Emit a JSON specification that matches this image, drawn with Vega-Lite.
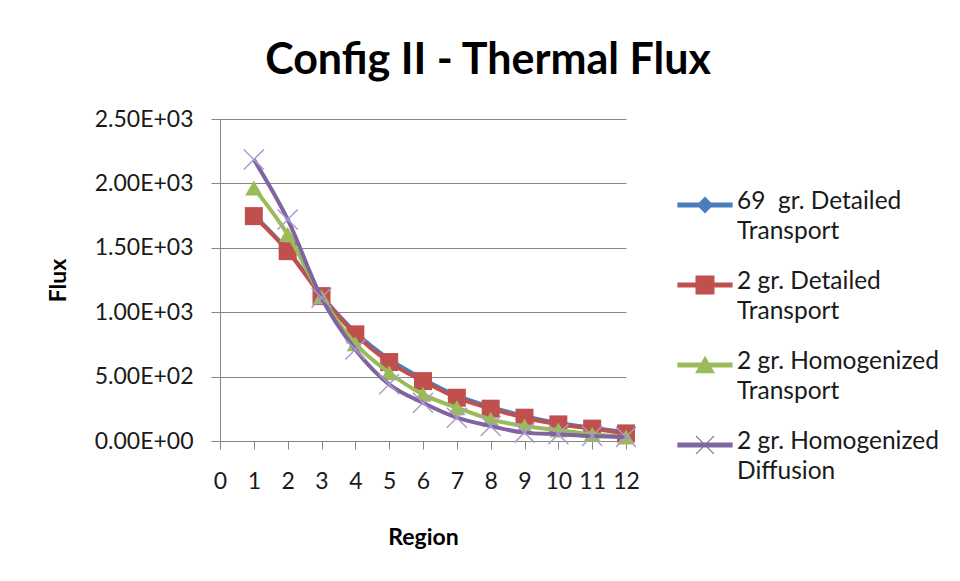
{
  "$schema": "https://vega.github.io/schema/vega-lite/v6.json",
  "autosize": "none",
  "width": 406,
  "height": 322,
  "padding": {"left": 220, "top": 119, "right": 334, "bottom": 140},
  "background": "white",
  "title": {
    "text": "Config II - Thermal Flux",
    "font": "Lato",
    "fontSize": 43,
    "fontWeight": "bold",
    "color": "#000000",
    "anchor": "middle",
    "dx": 65,
    "baseline": "alphabetic",
    "offset": -9
  },
  "config": {
    "view": {"stroke": null},
    "font": "Lato"
  },
  "data": {
    "values": [
      {"region": 1, "flux": 1755, "series": "69\u00a0 gr. Detailed Transport"},
      {"region": 2, "flux": 1480, "series": "69\u00a0 gr. Detailed Transport"},
      {"region": 3, "flux": 1130, "series": "69\u00a0 gr. Detailed Transport"},
      {"region": 4, "flux": 845, "series": "69\u00a0 gr. Detailed Transport"},
      {"region": 5, "flux": 635, "series": "69\u00a0 gr. Detailed Transport"},
      {"region": 6, "flux": 482, "series": "69\u00a0 gr. Detailed Transport"},
      {"region": 7, "flux": 352, "series": "69\u00a0 gr. Detailed Transport"},
      {"region": 8, "flux": 265, "series": "69\u00a0 gr. Detailed Transport"},
      {"region": 9, "flux": 193, "series": "69\u00a0 gr. Detailed Transport"},
      {"region": 10, "flux": 140, "series": "69\u00a0 gr. Detailed Transport"},
      {"region": 11, "flux": 103, "series": "69\u00a0 gr. Detailed Transport"},
      {"region": 12, "flux": 68, "series": "69\u00a0 gr. Detailed Transport"},
      {"region": 1, "flux": 1746, "series": "2 gr. Detailed Transport"},
      {"region": 2, "flux": 1474, "series": "2 gr. Detailed Transport"},
      {"region": 3, "flux": 1125, "series": "2 gr. Detailed Transport"},
      {"region": 4, "flux": 828, "series": "2 gr. Detailed Transport"},
      {"region": 5, "flux": 613, "series": "2 gr. Detailed Transport"},
      {"region": 6, "flux": 465, "series": "2 gr. Detailed Transport"},
      {"region": 7, "flux": 336, "series": "2 gr. Detailed Transport"},
      {"region": 8, "flux": 251, "series": "2 gr. Detailed Transport"},
      {"region": 9, "flux": 181, "series": "2 gr. Detailed Transport"},
      {"region": 10, "flux": 129, "series": "2 gr. Detailed Transport"},
      {"region": 11, "flux": 96, "series": "2 gr. Detailed Transport"},
      {"region": 12, "flux": 59, "series": "2 gr. Detailed Transport"},
      {"region": 1, "flux": 1965, "series": "2 gr. Homogenized Transport"},
      {"region": 2, "flux": 1603, "series": "2 gr. Homogenized Transport"},
      {"region": 3, "flux": 1120, "series": "2 gr. Homogenized Transport"},
      {"region": 4, "flux": 756, "series": "2 gr. Homogenized Transport"},
      {"region": 5, "flux": 530, "series": "2 gr. Homogenized Transport"},
      {"region": 6, "flux": 362, "series": "2 gr. Homogenized Transport"},
      {"region": 7, "flux": 259, "series": "2 gr. Homogenized Transport"},
      {"region": 8, "flux": 168, "series": "2 gr. Homogenized Transport"},
      {"region": 9, "flux": 116, "series": "2 gr. Homogenized Transport"},
      {"region": 10, "flux": 85, "series": "2 gr. Homogenized Transport"},
      {"region": 11, "flux": 52, "series": "2 gr. Homogenized Transport"},
      {"region": 12, "flux": 31, "series": "2 gr. Homogenized Transport"},
      {"region": 1, "flux": 2185, "series": "2 gr. Homogenized Diffusion"},
      {"region": 2, "flux": 1720, "series": "2 gr. Homogenized Diffusion"},
      {"region": 3, "flux": 1112, "series": "2 gr. Homogenized Diffusion"},
      {"region": 4, "flux": 711, "series": "2 gr. Homogenized Diffusion"},
      {"region": 5, "flux": 440, "series": "2 gr. Homogenized Diffusion"},
      {"region": 6, "flux": 297, "series": "2 gr. Homogenized Diffusion"},
      {"region": 7, "flux": 181, "series": "2 gr. Homogenized Diffusion"},
      {"region": 8, "flux": 116, "series": "2 gr. Homogenized Diffusion"},
      {"region": 9, "flux": 65, "series": "2 gr. Homogenized Diffusion"},
      {"region": 10, "flux": 52, "series": "2 gr. Homogenized Diffusion"},
      {"region": 11, "flux": 39, "series": "2 gr. Homogenized Diffusion"},
      {"region": 12, "flux": 31, "series": "2 gr. Homogenized Diffusion"}
    ]
  },
  "encoding": {
    "x": {
      "field": "region",
      "type": "quantitative",
      "title": "Region",
      "scale": {"domain": [0, 12], "nice": false, "zero": false},
      "axis": {
        "values": [0, 1, 2, 3, 4, 5, 6, 7, 8, 9, 10, 11, 12],
        "format": "d",
        "grid": false,
        "domainColor": "#868686",
        "tickColor": "#868686",
        "tickSize": 8,
        "labelFont": "Lato",
        "labelFontSize": 23,
        "labelColor": "#1a1a1a",
        "labelPadding": 21,
        "labelFlush": false,
        "titleFont": "Lato",
        "titleFontSize": 23,
        "titleFontWeight": "bold",
        "titleColor": "#000000",
        "titlePadding": 33
      }
    },
    "y": {
      "field": "flux",
      "type": "quantitative",
      "title": "Flux",
      "scale": {"domain": [0, 2500], "nice": false},
      "axis": {
        "values": [0, 500, 1000, 1500, 2000, 2500],
        "labelExpr": "datum.value == 0 ? '0.00E+00' : format(datum.value / pow(10, floor(log(datum.value) / LN10 + 1e-9)), '.2f') + 'E+' + format(floor(log(datum.value) / LN10 + 1e-9), '02d')",
        "grid": true,
        "gridColor": "#868686",
        "domainColor": "#868686",
        "tickColor": "#868686",
        "tickSize": 9,
        "labelFont": "Lato",
        "labelFontSize": 23,
        "labelColor": "#1a1a1a",
        "labelPadding": 18,
        "titleFont": "Lato",
        "titleFontSize": 23,
        "titleFontWeight": "bold",
        "titleColor": "#000000",
        "titlePadding": 24
      }
    },
    "color": {
      "field": "series",
      "type": "nominal",
      "scale": {
        "domain": ["69\u00a0 gr. Detailed Transport", "2 gr. Detailed Transport", "2 gr. Homogenized Transport", "2 gr. Homogenized Diffusion"],
        "range": ["#4A7EBB", "#C0504D", "#9BBB59", "#8064A2"]
      },
      "legend": {
        "title": null,
        "orient": "none",
        "legendX": 457,
        "legendY": 58,
        "labelFont": "Lato",
        "labelFontSize": 24.5,
        "labelColor": "#1a1a1a",
        "labelLimit": 400,
        "labelOffset": 4,
        "labelExpr": "[slice(datum.label, 0, lastindexof(datum.label, ' ')), slice(datum.label, lastindexof(datum.label, ' ') + 1)]",
        "symbolSize": 2916,
        "rowPadding": 13,
        "encode": {
          "labels": {"update": {"lineHeight": {"value": 30}, "baseline": {"value": "top"}, "dy": {"value": -15}}},
          "symbols": {
            "update": {
              "shape": {"signal": "datum.value === '2 gr. Detailed Transport' ? 'M-1,-0.074H1V0.074H-1Z M-0.33,-0.33H0.33V0.33H-0.33Z' : datum.value === '2 gr. Homogenized Transport' ? 'M-1,-0.074H1V0.074H-1Z M0,-0.3L0.33,0.28L-0.33,0.28Z' : datum.value === '2 gr. Homogenized Diffusion' ? 'M-1,-0.074H1V0.074H-1Z M-0.33,-0.33L0.33,0.33M-0.33,0.33L0.33,-0.33' : 'M-1,-0.074H1V0.074H-1Z M0,-0.28L0.28,0L0,0.28L-0.28,0Z'"},
              "fill": {"signal": "scale('color', datum.value)"},
              "fillOpacity": {"value": 1},
              "stroke": {"signal": "datum.value === '2 gr. Homogenized Diffusion' ? '#a99bd0' : 'transparent'"},
              "strokeWidth": {"value": 1.2},
              "size": {"value": 2916}
            }
          }
        }
      }
    }
  },
  "layer": [
    {
      "transform": [{"filter": "indexof(datum.series, '69') === 0"}],
      "layer": [
        {"mark": {"type": "line", "interpolate": "monotone", "strokeWidth": 4}},
        {"mark": {"type": "point", "shape": "diamond", "filled": true, "size": 144, "opacity": 1}}
      ]
    },
    {
      "transform": [{"filter": "datum.series === '2 gr. Detailed Transport'"}],
      "layer": [
        {"mark": {"type": "line", "interpolate": "monotone", "strokeWidth": 4}},
        {"mark": {"type": "point", "shape": "square", "filled": true, "size": 324, "opacity": 1}}
      ]
    },
    {
      "transform": [{"filter": "datum.series === '2 gr. Homogenized Transport'"}],
      "layer": [
        {"mark": {"type": "line", "interpolate": "monotone", "strokeWidth": 4}},
        {"mark": {"type": "point", "shape": "triangle-up", "filled": true, "size": 300, "opacity": 1}}
      ]
    },
    {
      "transform": [{"filter": "datum.series === '2 gr. Homogenized Diffusion'"}],
      "layer": [
        {"mark": {"type": "line", "interpolate": "monotone", "strokeWidth": 4}},
        {"mark": {"type": "point", "shape": "M-1,-1L1,1M-1,1L1,-1", "filled": false, "size": 400, "stroke": "#a99bd0", "strokeWidth": 1.5, "opacity": 1}, "encoding": {"color": {"value": "#a99bd0"}}}
      ]
    }
  ]
}
